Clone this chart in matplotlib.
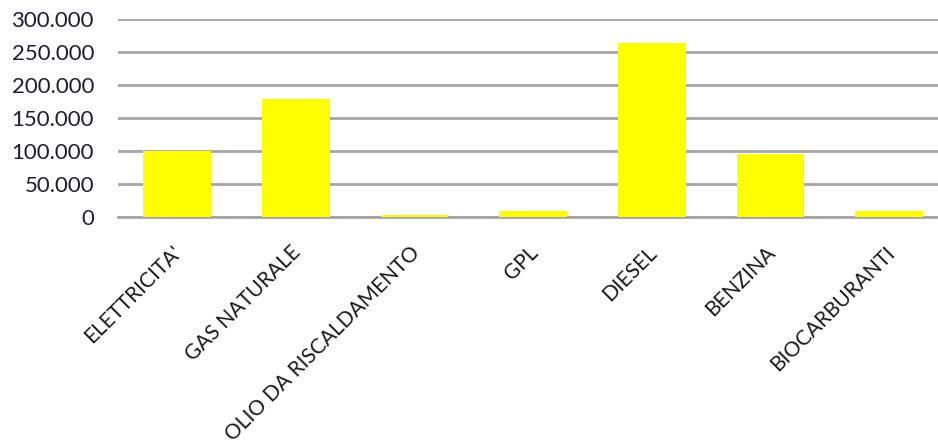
import matplotlib
matplotlib.use("Agg")
import matplotlib.pyplot as plt
from matplotlib.ticker import FuncFormatter, MultipleLocator
from matplotlib.transforms import ScaledTranslation

categories = ["ELETTRICITA'", "GAS NATURALE", "OLIO DA RISCALDAMENTO", "GPL",
              "DIESEL", "BENZINA", "BIOCARBURANTI"]
values = [101000, 179000, 3500, 9500, 263500, 96000, 9500]
y_ticks_step = 50000
y_max = 300000

plt.rcParams['font.family'] = ['Lato', 'DejaVu Sans']

fig = plt.figure(figsize=(9.38, 4.44), dpi=100)
# the original picture is cropped on the right, so the axes run past the figure edge
ax = fig.add_axes([0.1254, 0.5106, 0.886, 0.4466])

x = list(range(len(categories)))
ax.bar(x, values, width=0.57, color="#ffff00", zorder=3)

ax.set_xlim(-0.5, len(categories) - 0.5)
ax.set_ylim(0, y_max)
ax.yaxis.set_major_locator(MultipleLocator(y_ticks_step))
ax.yaxis.set_major_formatter(FuncFormatter(lambda v, p: f"{int(v):,}".replace(",", ".")))
ax.grid(axis="y", color="#a6a6a6", linewidth=2, zorder=0)

for s in ["top", "right", "left"]:
    ax.spines[s].set_visible(False)
ax.spines["bottom"].set_color("#a6a6a6")
ax.spines["bottom"].set_linewidth(2)

ax.tick_params(axis="y", length=0, pad=17, labelsize=16, labelcolor="#1f1f2a")
ax.tick_params(axis="x", length=0, pad=18, labelsize=15, labelcolor="#1a1a1a")
ax.set_xticks(x)
ax.set_xticklabels(categories, rotation=45, ha="right", va="top", rotation_mode="anchor")
for lab in ax.get_xticklabels():
    lab.set_transform(lab.get_transform() + ScaledTranslation(-5 / 100, 0, fig.dpi_scale_trans))

plt.savefig("out.png", dpi=100)
